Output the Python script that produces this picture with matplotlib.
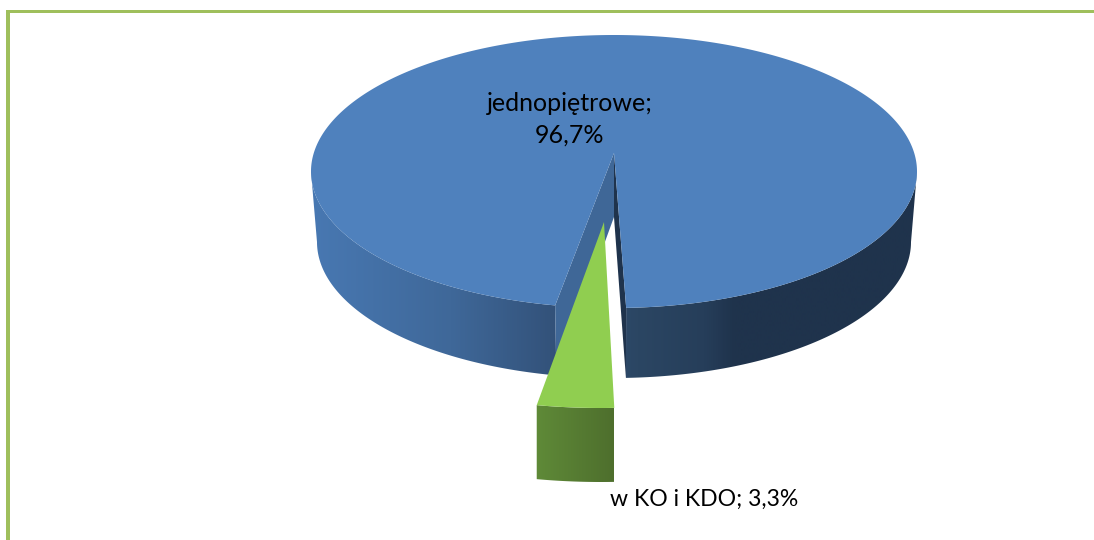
import numpy as np
import matplotlib
matplotlib.use("Agg")
import matplotlib.pyplot as plt
from matplotlib.patches import Polygon
from matplotlib.colors import LinearSegmentedColormap

labels = ["jednopiętrowe", "w KO i KDO"]
shares = [96.7, 3.3]
label_text = ["jednopiętrowe;\n96,7%", "w KO i KDO; 3,3%"]

W, H = 1094, 540
fig = plt.figure(figsize=(W / 100, H / 100), dpi=100)
ax = fig.add_axes([0, 0, 1, 1])
ax.set_xlim(0, W)
ax.set_ylim(H, 0)
ax.axis("off")

# projected angle of the small slice (perspective widens it a little at the front)
persp = 1.136
t_end = 87.7
t_start = t_end + shares[1] / 100 * 360 * persp


def rim(cx, cy, rx, ry, a, b, n=200):
    t = np.radians(np.linspace(a, b, n))
    return np.column_stack([cx + rx * np.cos(t), cy + ry * np.sin(t)])


def gradient(poly, x0, x1, stops, z):
    cmap = LinearSegmentedColormap.from_list("g", stops)
    img = ax.imshow(np.linspace(0, 1, 512)[None, :], extent=(x0, x1, H, 0), cmap=cmap,
                    aspect="auto", zorder=z, interpolation="bilinear")
    patch = Polygon(poly, closed=True, transform=ax.transData, fc="none", ec="none")
    ax.add_patch(patch)
    img.set_clip_path(patch)


top = (614, 171.5, 303, 136.5)
bot = (614, 242, 297, 136)
apex_top = (614, 153)
apex_bot = (614, 217)

blue_stops = [(0.0, "#4878b2"), (0.23, "#3f6899"), (0.40, "#33527a"), (0.54, "#2b4663"),
              (0.65, "#263e5a"), (0.70, "#1f334c"), (1.0, "#1f334c")]

# outer side of the large slice, left and right of the gap
left_side = np.vstack([rim(*top, t_start, 180), rim(*bot, 180, t_start)])
right_side = np.vstack([rim(*top, 0, t_end), rim(*bot, t_end, 0)])
gradient(left_side, 311, 917, blue_stops, 1)
gradient(right_side, 311, 917, blue_stops, 1)

# inner walls of the gap
p_left_t = rim(*top, t_start, t_start, 1)[0]
p_left_b = rim(*bot, t_start, t_start, 1)[0]
p_right_t = rim(*top, t_end, t_end, 1)[0]
p_right_b = rim(*bot, t_end, t_end, 1)[0]
ax.add_patch(Polygon([apex_top, p_left_t, p_left_b, apex_bot], fc="#3f6797", ec="none", zorder=2))
ax.add_patch(Polygon([apex_top, p_right_t, p_right_b, apex_bot], fc="#1f334c", ec="none", zorder=2))

# top face of the large slice
top_face = np.vstack([[apex_top], rim(*top, t_start, t_end + 360, 600)])
ax.add_patch(Polygon(top_face, fc="#4f81bd", ec="none", zorder=3))

# exploded small slice
g_top = (601, 258, 331, 150)
g_bot = (601, 332, 331, 150)
g_face = np.vstack([[(604, 222)], rim(*g_top, t_end, t_start, 30)])
g_side = np.vstack([rim(*g_top, t_end, t_start, 30), rim(*g_bot, t_start, t_end, 30)])
gradient(g_side, 536, 614, [(0, "#5f8a38"), (1, "#4e6f2d")], 4)
ax.add_patch(Polygon(g_face, fc="#90ce50", ec="none", zorder=5))

# frame
ax.add_patch(Polygon([(6, 540), (6, 10), (1094, 10), (1094, 12.5), (10, 12.5), (10, 540)],
                     fc="#9fbf5c", ec="none", zorder=6))

font = ["Lato", "DejaVu Sans"]
ax.text(569.5, 119, label_text[0], ha="center", va="center", fontsize=18, family=font,
        color="#000000", linespacing=1.45, zorder=7)
ax.text(704, 499, label_text[1], ha="center", va="center", fontsize=16.6, family=font,
        color="#000000", zorder=7)

ax.set_xlim(0, W)
ax.set_ylim(H, 0)
fig.savefig("out.png", dpi=100, facecolor="white")
